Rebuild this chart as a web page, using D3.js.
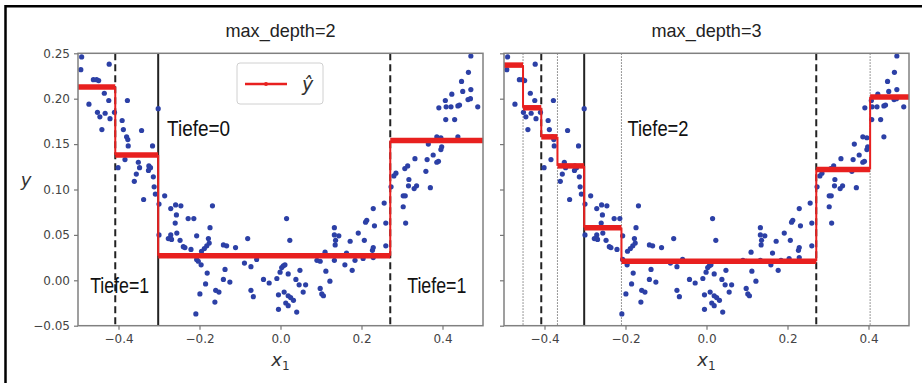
<!DOCTYPE html>
<html>
<head>
<meta charset="utf-8">
<script src="https://cdn.jsdelivr.net/npm/d3@7"></script>
<style>
  body { margin: 0; background: #fff; }
  svg { display: block; }
  .axis path { display: none; }
  .axis line { stroke: #777; stroke-width: 1.2; }
  .axis text { font-family: "DejaVu Sans", sans-serif; font-size: 12px; fill: #444; }
</style>
</head>
<body>
<svg id="chart" width="922" height="383"></svg>
<script>
// scatter points (x1, y)
var xs = [
  -0.491, -0.493, -0.423, -0.462, -0.454, -0.449, -0.435, -0.424, -0.473, -0.378,
  -0.452, -0.446, -0.433, -0.421, -0.410, -0.441, -0.391, -0.388, -0.380, -0.377,
  -0.376, -0.343, -0.316, -0.302, -0.401, -0.384, -0.351, -0.348, -0.325, -0.321,
  -0.326, -0.356, -0.361, -0.314, -0.312, -0.309, -0.338,
  -0.300, -0.286, -0.271, -0.259, -0.246, -0.257, -0.260, -0.228, -0.214, -0.168,
  -0.174, -0.300, -0.271, -0.277, -0.269, -0.256, -0.248, -0.240, -0.236, -0.221,
  -0.207, -0.178, -0.176, -0.182, -0.188, -0.195, -0.141, -0.133, -0.111, -0.207,
  -0.203, -0.196, -0.181, -0.137, -0.185, -0.141, -0.125, -0.199, -0.160, -0.152,
  -0.162, -0.209,
  -0.081, -0.089, -0.073, -0.059, -0.042, -0.028, -0.009, -0.073, -0.067, -0.005,
  -0.005,
  0.015, 0.023, 0.007, 0.011, 0.003, -0.001, 0.019, 0.048, 0.038, 0.046,
  0.062, 0.009, 0.019, 0.025, 0.032, 0.056, 0.013, 0.019, 0.040,
  0.090, 0.098, 0.110, 0.112, 0.122, 0.098, 0.102, 0.106, 0.133, 0.133,
  0.144, 0.136, 0.135, 0.133, 0.163, 0.159, 0.177, 0.172, 0.184, 0.192,
  0.207, 0.204, 0.213, 0.210, 0.229, 0.232, 0.229, 0.227, 0.229, 0.256,
  0.260, 0.260,
  0.470, 0.464, 0.447, 0.423, 0.450, 0.470, 0.407, 0.409, 0.408, 0.391,
  0.421, 0.430, 0.438, 0.442, 0.463, 0.469, 0.487, 0.438, 0.386, 0.396,
  0.365, 0.398, 0.396, 0.390, 0.386, 0.377, 0.362, 0.332, 0.314, 0.307,
  0.359, 0.285, 0.280, 0.317, 0.316, 0.336, 0.330, 0.370, 0.273, 0.303,
  0.308, 0.303, 0.309
];
var ys = [
  0.246, 0.232, 0.238, 0.221, 0.221, 0.220, 0.206, 0.198, 0.194, 0.198,
  0.185, 0.180, 0.184, 0.178, 0.185, 0.166, 0.176, 0.166, 0.158, 0.155,
  0.148, 0.165, 0.148, 0.189, 0.124, 0.133, 0.130, 0.124, 0.126, 0.124,
  0.121, 0.117, 0.109, 0.114, 0.103, 0.095, 0.089,
  0.084, 0.093, 0.079, 0.083, 0.082, 0.072, 0.063, 0.068, 0.068, 0.082,
  0.058, 0.050, 0.050, 0.046, 0.045, 0.052, 0.044, 0.037, 0.036, 0.034,
  0.049, 0.046, 0.041, 0.038, 0.035, 0.032, 0.039, 0.038, 0.036, 0.023,
  0.021, 0.017, 0.008, 0.012, -0.004, 0.001, -0.002, -0.015, -0.011, -0.013,
  -0.024, -0.037,
  0.046, 0.019, 0.015, 0.023, 0.001, -0.003, 0.002, -0.011, -0.018, -0.016,
  -0.032,
  0.068, 0.044, 0.016, 0.017, 0.014, 0.009, 0.007, 0.011, 0.001, -0.005,
  -0.005, -0.013, -0.017, -0.019, -0.022, -0.013, -0.025, -0.028, -0.035,
  0.022, 0.021, 0.031, 0.010, -0.001, -0.009, -0.015, -0.017, 0.058, 0.050,
  0.049, 0.044, 0.039, 0.022, 0.030, 0.017, 0.011, 0.043, 0.022, 0.052,
  0.044, 0.024, 0.066, 0.064, 0.079, 0.060, 0.036, 0.033, 0.025, 0.085,
  0.063, 0.038,
  0.247, 0.229, 0.219, 0.205, 0.208, 0.210, 0.198, 0.191, 0.177, 0.190,
  0.191, 0.177, 0.192, 0.193, 0.199, 0.200, 0.191, 0.158, 0.158, 0.157,
  0.150, 0.147, 0.144, 0.131, 0.130, 0.138, 0.133, 0.134, 0.126, 0.123,
  0.120, 0.118, 0.115, 0.111, 0.104, 0.104, 0.101, 0.102, 0.103, 0.093,
  0.093, 0.081, 0.063
];

// tree splits and leaf predictions
var splits2 = [-0.408, -0.302, 0.271];
var leaves2 = [0.213, 0.138, 0.027, 0.154];
var splits3 = [-0.453, -0.408, -0.368, -0.302, -0.210, 0.271, 0.404];
var leaves3 = [0.237, 0.190, 0.158, 0.126, 0.058, 0.021, 0.122, 0.202];

var xTicks = [-0.4, -0.2, 0.0, 0.2, 0.4];
var yTicks = [-0.05, 0.00, 0.05, 0.10, 0.15, 0.20, 0.25];

var svg = d3.select("#chart");
var pts = xs.map(function(d, i) { return { x: d, y: ys[i] }; });

// outer frame of the figure
svg.append("path")
  .attr("d", "M5.5,383V6.2H922")
  .attr("fill", "none")
  .attr("stroke", "#000")
  .attr("stroke-width", 2.5);

var y = d3.scaleLinear().domain([-0.05, 0.25]).range([325.7, 53.3]);

function panel(left, right, title, splits, leaves, lines, showY) {
  var x = d3.scaleLinear().domain([-0.5, 0.5]).range([left, right]);
  var g = svg.append("g");

  // split lines
  lines.forEach(function(l) {
    var ln = g.append("line")
      .attr("x1", x(l.x)).attr("x2", x(l.x))
      .attr("y1", y(0.25)).attr("y2", y(-0.05));
    if (l.kind === "solid") {
      ln.attr("stroke", "#222").attr("stroke-width", 2);
    } else if (l.kind === "dashed") {
      ln.attr("stroke", "#222").attr("stroke-width", 2).attr("stroke-dasharray", "7,4");
    } else {
      ln.attr("stroke", "#666").attr("stroke-width", 0.9).attr("stroke-dasharray", "1.5,1.5");
    }
  });

  // points
  g.selectAll("circle.pt").data(pts).enter().append("circle")
    .attr("class", "pt")
    .attr("cx", function(d) { return x(d.x); })
    .attr("cy", function(d) { return y(d.y); })
    .attr("r", 2.6)
    .attr("fill", "#2c40a6");

  // prediction steps
  var edges = [-0.5].concat(splits).concat([0.5]);
  leaves.forEach(function(v, i) {
    g.append("line")
      .attr("x1", x(edges[i])).attr("x2", x(edges[i + 1]))
      .attr("y1", y(v)).attr("y2", y(v))
      .attr("stroke", "#e8201f").attr("stroke-width", 5.5);
    if (i > 0) {
      g.append("line")
        .attr("x1", x(edges[i])).attr("x2", x(edges[i]))
        .attr("y1", y(leaves[i - 1])).attr("y2", y(v))
        .attr("stroke", "#e8201f").attr("stroke-width", 2);
    }
  });

  // frame
  g.append("rect")
    .attr("x", left).attr("y", y(0.25))
    .attr("width", right - left).attr("height", y(-0.05) - y(0.25))
    .attr("fill", "none").attr("stroke", "#808080").attr("stroke-width", 1.5);

  var xAxis = d3.axisBottom(x).tickValues(xTicks).tickFormat(d3.format(".1f")).tickSize(4).tickPadding(5);
  g.append("g").attr("class", "axis").attr("transform", "translate(0," + y(-0.05) + ")").call(xAxis);

  var yAxis = d3.axisLeft(y).tickValues(yTicks).tickFormat(showY ? d3.format(".2f") : "").tickSize(4).tickPadding(4);
  g.append("g").attr("class", "axis").attr("transform", "translate(" + left + ",0)").call(yAxis);

  g.append("text")
    .attr("x", (left + right) / 2).attr("y", 37)
    .attr("text-anchor", "middle")
    .attr("textLength", 110).attr("lengthAdjust", "spacingAndGlyphs")
    .style("font-family", "'Liberation Sans', sans-serif").style("font-size", "19px").style("fill", "#222")
    .text(title);

  var xl = g.append("text")
    .attr("x", (left + right) / 2).attr("y", 366)
    .attr("text-anchor", "middle")
    .style("font-family", "'DejaVu Sans', sans-serif").style("font-size", "18px").style("fill", "#333");
  xl.append("tspan").style("font-style", "italic").text("x");
  xl.append("tspan").attr("dy", 4).style("font-size", "12px").text("1");

  return x;
}

function tiefe(x, px, py, label, w) {
  svg.append("text")
    .attr("x", x(px)).attr("y", py)
    .attr("textLength", w).attr("lengthAdjust", "spacingAndGlyphs")
    .style("font-family", "'Liberation Sans', sans-serif")
    .style("font-size", "22.5px").style("fill", "#111")
    .text(label);
}

var xa = panel(78, 483, "max_depth=2", splits2, leaves2, [
  { x: -0.408, kind: "dashed" },
  { x: -0.302, kind: "solid" },
  { x: 0.271, kind: "dashed" }
], true);

var xb = panel(504, 909, "max_depth=3", splits3, leaves3, [
  { x: -0.453, kind: "dotted" },
  { x: -0.408, kind: "dashed" },
  { x: -0.368, kind: "dotted" },
  { x: -0.302, kind: "solid" },
  { x: -0.210, kind: "dotted" },
  { x: 0.271, kind: "dashed" },
  { x: 0.404, kind: "dotted" }
], false);

// y label
svg.append("text")
  .attr("x", 26).attr("y", 186)
  .attr("text-anchor", "middle")
  .style("font-family", "'DejaVu Sans', sans-serif").style("font-size", "18px")
  .style("font-style", "italic").style("fill", "#333")
  .text("y");

tiefe(xa, -0.280, 136, "Tiefe=0", 63);
tiefe(xa, -0.470, 293, "Tiefe=1", 59);
tiefe(xa, 0.313, 293, "Tiefe=1", 59);
tiefe(xb, -0.195, 136, "Tiefe=2", 61);

// legend
var lg = svg.append("g");
lg.append("rect")
  .attr("x", 237).attr("y", 63).attr("width", 86).attr("height", 41).attr("rx", 3)
  .attr("fill", "#fff").attr("fill-opacity", 0.85)
  .attr("stroke", "#d0d0d0").attr("stroke-width", 1);
lg.append("line")
  .attr("x1", 245).attr("x2", 287).attr("y1", 84).attr("y2", 84)
  .attr("stroke", "#e8201f").attr("stroke-width", 2.5);
lg.append("circle").attr("cx", 266).attr("cy", 84).attr("r", 2).attr("fill", "#e8201f");
lg.append("text")
  .attr("x", 302).attr("y", 91)
  .style("font-family", "'DejaVu Sans', sans-serif").style("font-size", "19px")
  .style("font-style", "italic").style("fill", "#333")
  .text("\u0177");
</script>
</body>
</html>
